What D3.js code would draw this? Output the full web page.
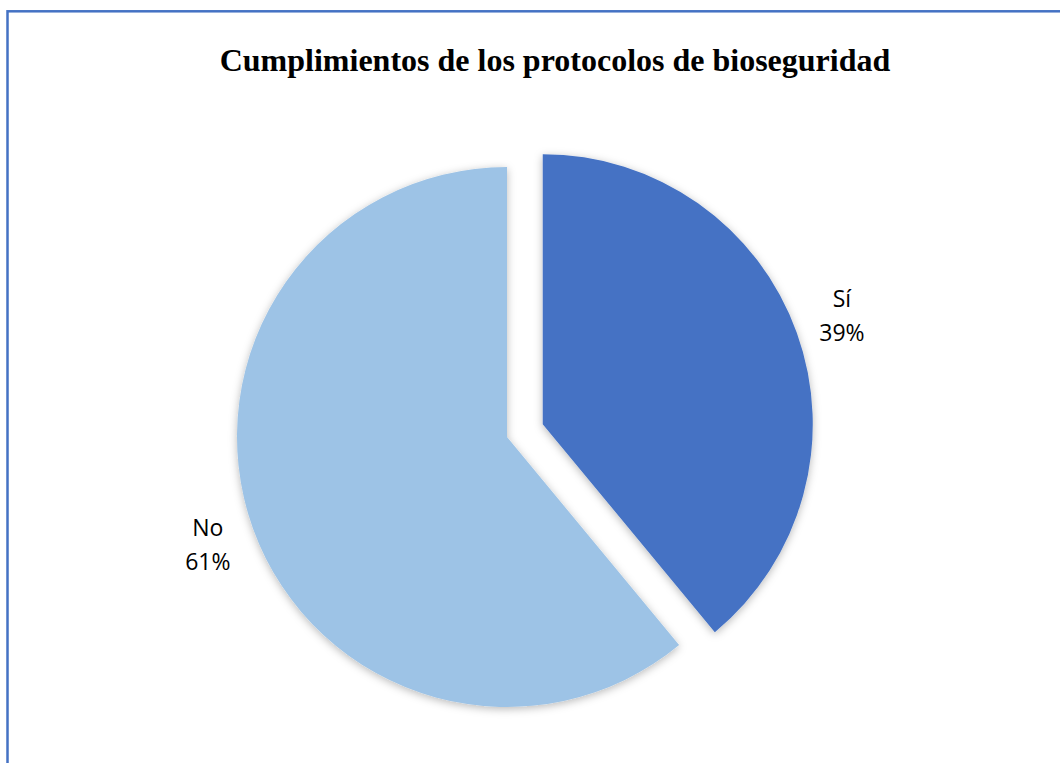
<!DOCTYPE html>
<html>
<head>
<meta charset="utf-8">
<script src="https://cdn.jsdelivr.net/npm/d3@7"></script>
<style>
  body { margin: 0; background: #fff; }
  .title { font-family: "Liberation Serif", "Times New Roman", serif; font-weight: bold; font-size: 32px; }
  .sliceLabel { font-family: "Open Sans", "Noto Sans", sans-serif; font-size: 23px; fill: #000; }
</style>
</head>
<body>
<svg id="svgContainer" width="1060" height="763"></svg>
<script>
/* ==== Data ==== */
var categories = ["Sí", "No"];
var values = [39, 61];
var percentLabels = ["39%", "61%"];
var colors = ["#4472C4", "#9DC3E6"];
var exploded = [true, false];

/* ==== UI settings ==== */
var WIDTH = 1060, HEIGHT = 763;
var CENTER_X = 507, CENTER_Y = 437;
var RADIUS = 270;
var EXPLODE = 38;
var LABEL_RADIUS = 318;

var svg = d3.select("svg#svgContainer");

var defs = svg.append("defs");
var shadow = defs.append("filter")
  .attr("id", "sliceShadow")
  .attr("x", "-20%").attr("y", "-20%")
  .attr("width", "140%").attr("height", "140%");
shadow.append("feDropShadow")
  .attr("dx", 0).attr("dy", 2)
  .attr("stdDeviation", 4)
  .attr("flood-color", "#000")
  .attr("flood-opacity", 0.28);

// chart border
svg.append("rect")
  .attr("x", 7.5).attr("y", 11.3)
  .attr("width", WIDTH + 20).attr("height", HEIGHT + 20)
  .attr("fill", "none")
  .attr("stroke", "#4472C4")
  .attr("stroke-width", 2.5);

svg.append("text")
  .attr("class", "title")
  .attr("x", 555).attr("y", 71)
  .attr("text-anchor", "middle")
  .text("Cumplimientos de los protocolos de bioseguridad");

/* ==== Pie ==== */
var data = categories.map(function(c, i) {
  return { label: c, value: values[i], pct: percentLabels[i], color: colors[i], exploded: exploded[i] };
});

var pie = d3.pie().sort(null).value(d => d.value).startAngle(0);
var arc = d3.arc().innerRadius(0).outerRadius(RADIUS);
var arcs = pie(data);

function offset(d, dist) {
  var a = (d.startAngle + d.endAngle) / 2;
  return [Math.sin(a) * dist, -Math.cos(a) * dist];
}

var slices = svg.append("g")
  .attr("transform", "translate(" + CENTER_X + "," + CENTER_Y + ")")
  .selectAll(".slice")
  .data(arcs)
  .enter()
  .append("g")
  .attr("class", "slice")
  .attr("transform", function(d) {
    var o = offset(d, d.data.exploded ? EXPLODE : 0);
    return "translate(" + o[0] + "," + o[1] + ")";
  });

slices.append("path")
  .attr("d", arc)
  .attr("fill", d => d.data.color)
  .attr("filter", "url(#sliceShadow)");

var labels = slices.append("text")
  .attr("class", "sliceLabel")
  .attr("text-anchor", "middle")
  .attr("transform", function(d) {
    var o = offset(d, LABEL_RADIUS);
    return "translate(" + o[0] + "," + o[1] + ")";
  });

labels.append("tspan").attr("x", 0).attr("y", -9).text(d => d.data.label);
labels.append("tspan").attr("x", 0).attr("y", 25).text(d => d.data.pct);
</script>
</body>
</html>
